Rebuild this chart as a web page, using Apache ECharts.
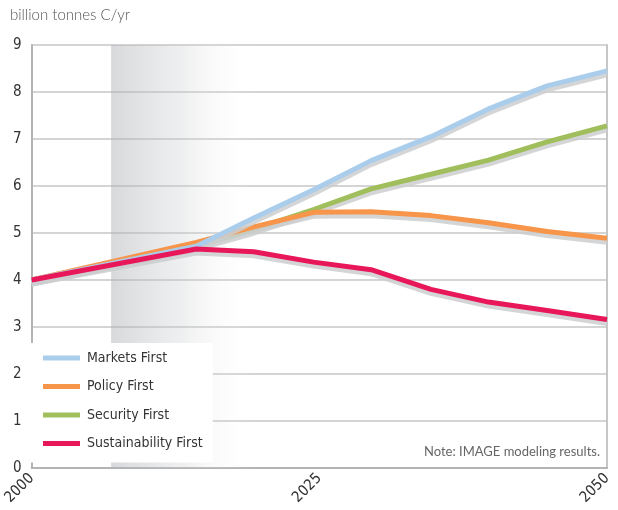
<!DOCTYPE html>
<html><head><meta charset="utf-8">
<script src="https://cdn.jsdelivr.net/npm/echarts@6/dist/echarts.min.js"></script>
<style>html,body{margin:0;padding:0;background:#fff}#c{width:618px;height:510px}</style>
</head><body><div id="c"></div>
<script>
const years = [2000, 2014.3, 2019.3, 2024.5, 2029.5, 2034.7, 2039.7, 2044.8, 2050];
const marketsFirst = [4.0, 4.72, 5.32, 5.92, 6.54, 7.05, 7.64, 8.13, 8.45];
const policyFirst = [4.0, 4.8, 5.13, 5.44, 5.45, 5.37, 5.22, 5.03, 4.89];
const securityFirst = [4.0, 4.74, 5.08, 5.5, 5.94, 6.25, 6.55, 6.94, 7.28];
const sustainabilityFirst = [4.0, 4.66, 4.60, 4.38, 4.22, 3.80, 3.53, 3.35, 3.16];
const seriesNames = ['Markets First', 'Policy First', 'Security First', 'Sustainability First'];
const xTicks = [2000, 2025, 2050];
const band = [2006.9, 2019.5];

const condensed = '"Liberation Sans Narrow", "DejaVu Sans Condensed", Roboto, sans-serif';
const pair = arr => arr.map((v, i) => [years[i], v]);
const shadow = {shadowColor: 'rgba(205,206,208,0.85)', shadowOffsetY: 4, shadowBlur: 0};

function mk(name, data, color, z, extra) {
  return Object.assign({
    name, type: 'line', data: pair(data), symbol: 'none', z,
    lineStyle: Object.assign({color, width: 5}, shadow),
    itemStyle: {color}
  }, extra || {});
}

const chart = echarts.init(document.getElementById('c'));
chart.setOption({
  animation: false,
  grid: {left: 30, right: 11, top: 45, bottom: 42},
  xAxis: {
    type: 'value', min: 2000, max: 2050, interval: 25,
    axisLine: {lineStyle: {color: '#b4b4b4', width: 2}},
    axisTick: {show: false},
    splitLine: {show: false},
    axisLabel: {rotate: 45, margin: 8, color: '#333', fontFamily: condensed, fontSize: 15,
      formatter: v => xTicks.includes(v) ? String(v) : ''}
  },
  yAxis: [{
    type: 'value', min: 0, max: 9, interval: 1,
    axisLine: {show: true, lineStyle: {color: '#b4b4b4', width: 2}},
    axisTick: {show: false},
    splitLine: {lineStyle: {color: '#c6c6c6', width: 1.5}},
    axisLabel: {margin: 10, color: '#333', fontFamily: condensed, fontSize: 15}
  }, {
    type: 'value', min: 0, max: 9, interval: 1, position: 'right',
    axisLine: {show: true, lineStyle: {color: '#c6c6c6', width: 2}},
    axisTick: {show: false}, axisLabel: {show: false}, splitLine: {show: false}
  }],
  legend: {
    orient: 'vertical', left: 30, top: 343,
    data: seriesNames,
    backgroundColor: '#fff',
    padding: [7, 10, 11, 13],
    itemGap: 12.5, itemWidth: 37, itemHeight: 5, icon: 'rect',
    textStyle: {color: '#333', fontFamily: condensed, fontSize: 14, lineHeight: 16, padding: [0, 0, 0, 2]}
  },
  graphic: [
    {type: 'text', left: 10, top: 8, style: {text: 'billion tonnes C/yr', fill: '#555', font: '300 15px Lato, "DejaVu Sans", sans-serif'}},
    {type: 'text', right: 18, top: 445, style: {text: 'Note: IMAGE modeling results.', fill: '#666', font: '13px Lato, "DejaVu Sans", sans-serif'}}
  ],
  series: [
    mk('Security First', securityFirst, '#a0bf5c', 3, {
      markArea: {silent: true, itemStyle: {color: new echarts.graphic.LinearGradient(0, 0, 1, 0, [
        {offset: 0, color: 'rgba(172,175,180,0.48)'},
        {offset: 0.5, color: 'rgba(205,207,210,0.32)'},
        {offset: 1, color: 'rgba(255,255,255,0)'}
      ])}, data: [[{xAxis: band[0]}, {xAxis: band[1]}]]}
    }),
    mk('Policy First', policyFirst, '#f7954a', 4),
    mk('Markets First', marketsFirst, '#abcdec', 5),
    mk('Sustainability First', sustainabilityFirst, '#e8175a', 6)
  ]
});
</script></body></html>
